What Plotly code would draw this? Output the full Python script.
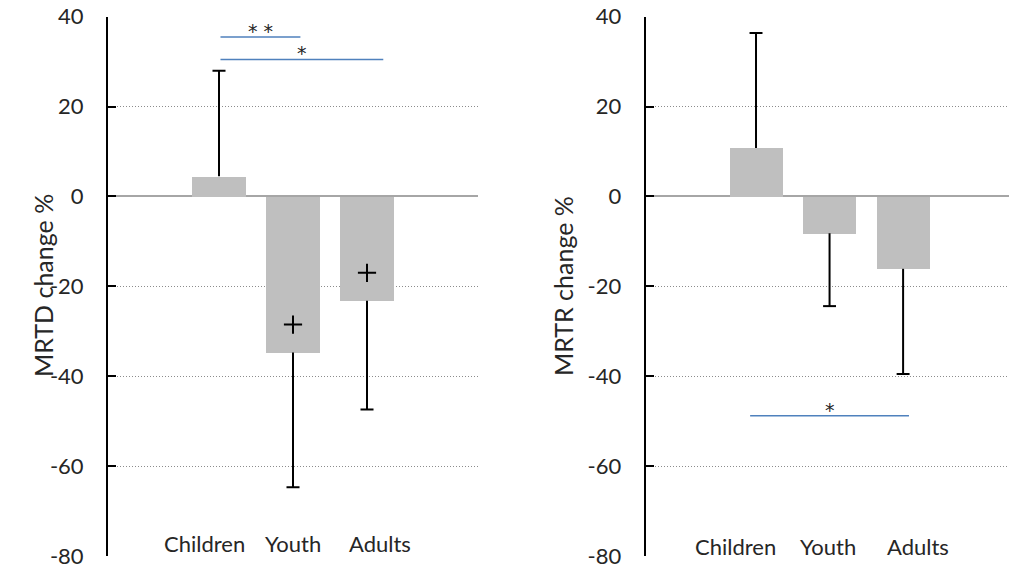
import plotly.graph_objects as go

# ---- data ----
groups = ["Children", "Youth", "Adults"]
group_pos = [0, 1, 2]

mrtd_change = [4.5, -34.7, -23.2]
mrtd_sd = [23.5, 30.0, 24.2]
mrtd_plus = [None, -28.5, -17.0]

mrtr_change = [10.8, -8.2, -16.1]
mrtr_sd = [25.6, 16.2, 23.4]

y_ticks = [40, 20, 0, -20, -40, -60, -80]
y_tick_text = [str(v) for v in y_ticks]

# pairwise comparisons: (group a, group b, level, stars)
mrtd_sig = [(0, 1, 35.5, "* *"), (0, 2, 30.5, "*")]
mrtr_sig = [(0, 2, -48.8, "*")]

# ---- styling ----
FONT = "Lato"
TEXT = "#262626"
BAR = "#bfbfbf"
SIG_BLUE = "#4f81bd"
CAP = 0.088
W, H = 1009, 569

fig = go.Figure()


def error_path(values, errs):
    xs, ys = [], []
    for x, v, e in zip(group_pos, values, errs):
        tip = v + e if v >= 0 else v - e
        xs += [x, x, None, x - CAP, x + CAP, None]
        ys += [v, tip, None, tip, tip, None]
    return xs, ys


def add_panel(values, errs, xa, ya):
    fig.add_trace(go.Bar(x=group_pos, y=values, marker=dict(color=BAR, line=dict(width=0)),
                         width=0.72, xaxis=xa, yaxis=ya, showlegend=False))
    ex, ey = error_path(values, errs)
    fig.add_trace(go.Scatter(x=ex, y=ey, mode="lines", line=dict(color="black", width=2),
                             xaxis=xa, yaxis=ya, showlegend=False, hoverinfo="skip"))


add_panel(mrtd_change, mrtd_sd, "x", "y")
add_panel(mrtr_change, mrtr_sd, "x2", "y2")

fig.add_trace(go.Scatter(x=group_pos, y=mrtd_plus, mode="markers",
                         marker=dict(symbol="cross-thin", size=13, line=dict(color="black", width=2)),
                         xaxis="x", yaxis="y", showlegend=False))

# significance bars (left/right overhang in category units)
sig_specs = [
    (mrtd_sig[0], "x", "y", 0.02, 0.10),
    (mrtd_sig[1], "x", "y", 0.02, 0.22),
    (mrtr_sig[0], "x2", "y2", -0.08, 0.08),
]
for (a, b, level, stars), xa, ya, lo, hi in sig_specs:
    x0, x1 = group_pos[a] + lo, group_pos[b] + hi
    fig.add_shape(type="line", x0=x0, x1=x1, y0=level, y1=level, xref=xa, yref=ya,
                  line=dict(color=SIG_BLUE, width=1.5))
    fig.add_annotation(x=(x0 + x1) / 2, y=level, xref=xa, yref=ya, text=stars,
                       showarrow=False, yanchor="bottom", yshift=-7,
                       font=dict(family="DejaVu Sans", size=19, color=TEXT))

# category labels along the bottom of each panel
label_shift_left = [-15, 0, 13]
label_shift_right = [-21, -2, 15]
for xa, ya, shifts, ylab in (("x", "y", label_shift_left, -77.3), ("x2", "y2", label_shift_right, -77.8)):
    for x, name, s in zip(group_pos, groups, shifts):
        fig.add_annotation(x=x, y=ylab, xref=xa, yref=ya, text=name, showarrow=False,
                           xshift=s, font=dict(family=FONT, size=22, color=TEXT))

# axis titles
for xp, title in ((26 / W, "MRTD change %"), (563 / W, "MRTR change %")):
    fig.add_annotation(x=xp, y=1 - 286 / H, xref="paper", yref="paper", text=title,
                       textangle=-90, showarrow=False,
                       font=dict(family=FONT, size=25, color=TEXT))

yaxis_style = dict(
    range=[-80, 40], tickvals=y_ticks, ticktext=y_tick_text, ticks="inside", ticklen=8,
    tickwidth=2, tickcolor="black", showline=True, linecolor="black", linewidth=2,
    showgrid=True, gridcolor="#8c8c8c", gridwidth=1, griddash="1px,2px",
    zeroline=True, zerolinecolor="#a6a6a6", zerolinewidth=2,
    tickfont=dict(family=FONT, size=22, color=TEXT), ticklabelstandoff=18,
    domain=[1 - 556 / H, 1 - 16.7 / H], fixedrange=True, automargin=False,
)
xaxis_style = dict(showticklabels=False, showgrid=False, zeroline=False, showline=False,
                   ticks="", fixedrange=True, automargin=False)

fig.update_layout(
    width=W, height=H,
    margin=dict(l=0, r=0, t=0, b=0, pad=0),
    paper_bgcolor="white", plot_bgcolor="white",
    xaxis=dict(**xaxis_style, range=[-1.5, 3.5], domain=[108 / W, 478 / W]),
    xaxis2=dict(**xaxis_style, range=[-1.5, 3.44], domain=[645.7 / W, 1.0]),
    yaxis=dict(**yaxis_style, anchor="x"),
    yaxis2=dict(**yaxis_style, anchor="x2"),
    bargap=0,
)

fig.write_html("out.html")
